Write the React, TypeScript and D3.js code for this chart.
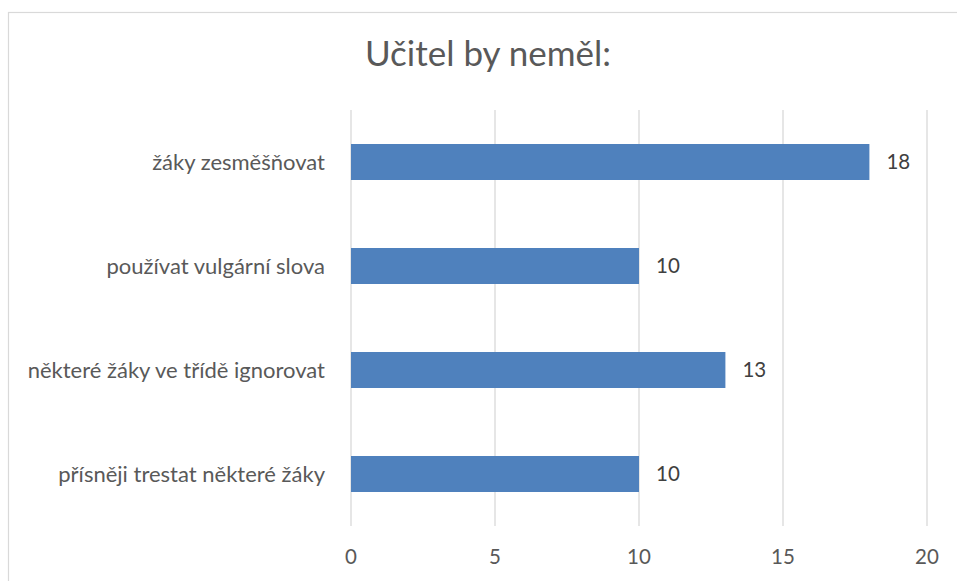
import React from "react";
import * as d3 from "d3";

const categories = [
  "žáky zesměšňovat",
  "používat vulgární slova",
  "některé žáky ve třídě ignorovat",
  "přísněji trestat některé žáky",
];
const values = [18, 10, 13, 10];
const xTicks = [0, 5, 10, 15, 20];
const title = "Učitel by neměl:";

const W = 957;
const H = 581;
const FONT = "Lato, 'Open Sans', sans-serif";

export default function App() {
  const x = d3.scaleLinear().domain([0, 20]).range([351, 927]);
  const y = d3
    .scaleBand<string>()
    .domain(categories)
    .range([110, 526])
    .paddingInner(0.654)
    .paddingOuter(0.327);

  return (
    <svg
      width={W}
      height={H}
      style={{ position: "absolute", left: 0, top: 0, background: "#fff" }}
    >
      <rect x={8.5} y={12.5} width={W + 20} height={H + 20} fill="#fff" stroke="#D9D9D9" strokeWidth={1.2} />
      <text
        x={488}
        y={66}
        textAnchor="middle"
        fontFamily={FONT}
        fontSize={35}
        fill="#595959"
      >
        {title}
      </text>
      {xTicks.map((t) => (
        <g key={t}>
          <line x1={x(t)} x2={x(t)} y1={110} y2={526} stroke="#D9D9D9" strokeWidth={1.3} />
          <text
            x={x(t)}
            y={564}
            textAnchor="middle"
            fontFamily={FONT}
            fontSize={20.5}
            fill="#595959"
          >
            {t}
          </text>
        </g>
      ))}
      {categories.map((c, i) => {
        const yy = y(c)!;
        const bh = y.bandwidth();
        return (
          <g key={c}>
            <rect x={x(0)} y={yy} width={x(values[i]) - x(0)} height={bh} fill="#4F81BD" />
            <text
              x={x(values[i]) + 17}
              y={yy + bh / 2}
              dy="0.35em"
              fontFamily={FONT}
              fontSize={20.5}
              fill="#404040"
            >
              {values[i]}
            </text>
            <text
              x={325}
              y={yy + bh / 2}
              dy="0.35em"
              textAnchor="end"
              fontFamily={FONT}
              fontSize={22}
              fill="#595959"
            >
              {c}
            </text>
          </g>
        );
      })}
    </svg>
  );
}
